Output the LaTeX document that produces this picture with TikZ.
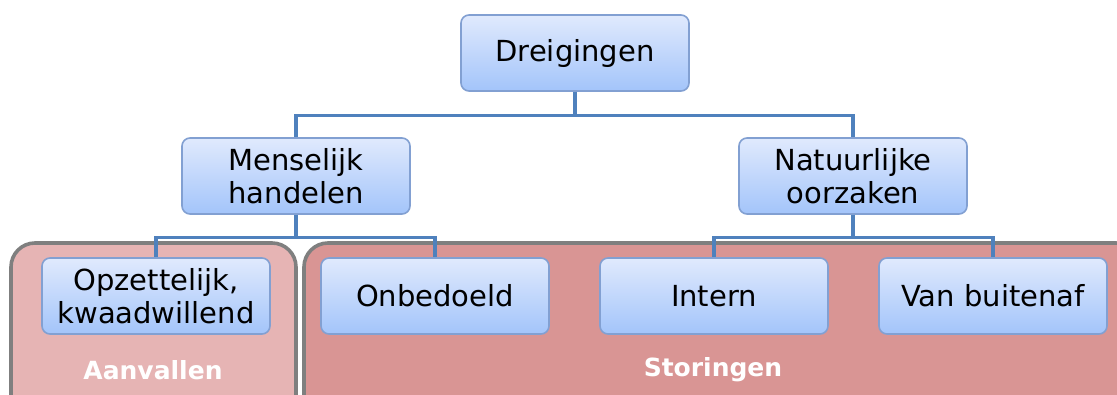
\documentclass[tikz,border=0pt]{standalone}
\usepackage{fontspec}
\setmainfont{DejaVu Sans}
\begin{document}
\begin{tikzpicture}[x=1pt,y=-1pt,
  item/.style={rectangle, rounded corners=8pt, draw={rgb,255:red,130;green,160;blue,210}, line width=1.6pt,
    top color={rgb,255:red,224;green,234;blue,253}, bottom color={rgb,255:red,163;green,196;blue,250},
    minimum width=228pt, minimum height=76pt, align=center, font=\fontsize{29}{33}\selectfont, inner sep=2pt},
  link/.style={draw={rgb,255:red,79;green,129;blue,189}, line width=3.2pt},
  group/.style={draw={rgb,255:red,127;green,127;blue,127}, line width=3.6pt, rounded corners=24pt},
  grouplabel/.style={text=white, font=\bfseries\fontsize{25}{30}\selectfont}]
\useasboundingbox (0,0) rectangle (1117,394);
% group backgrounds
\draw[group, fill={rgb,255:red,230;green,180;blue,180}] (11,243) rectangle (296,420);
\draw[group, fill={rgb,255:red,217;green,149;blue,148}] (304,243) rectangle (1140,420);
\node[grouplabel] (lab1) at (153,370) {Aanvallen};
\node[grouplabel] (lab2) at (713,370) {Storingen};
% tree nodes
\node[item] (d) at (575,53) {Dreigingen};
\node[item] (m) at (296,176) {Menselijk\\handelen};
\node[item] (n) at (853,176) {Natuurlijke\\oorzaken};
\node[item] (o) at (156,296) {Opzettelijk,\\kwaadwillend};
\node[item] (b) at (435,296) {Onbedoeld};
\node[item] (i) at (714,296) {Intern};
\node[item] (v) at (993,296) {Van buitenaf};
% connectors
\draw[link] (d.south) -- ++(0,24) -| (m.north);
\draw[link] (d.south) -- ++(0,24) -| (n.north);
\draw[link] (m.south) -- ++(0,23) -| (o.north);
\draw[link] (m.south) -- ++(0,23) -| (b.north);
\draw[link] (n.south) -- ++(0,23) -| (i.north);
\draw[link] (n.south) -- ++(0,23) -| (v.north);
\end{tikzpicture}
\end{document}
